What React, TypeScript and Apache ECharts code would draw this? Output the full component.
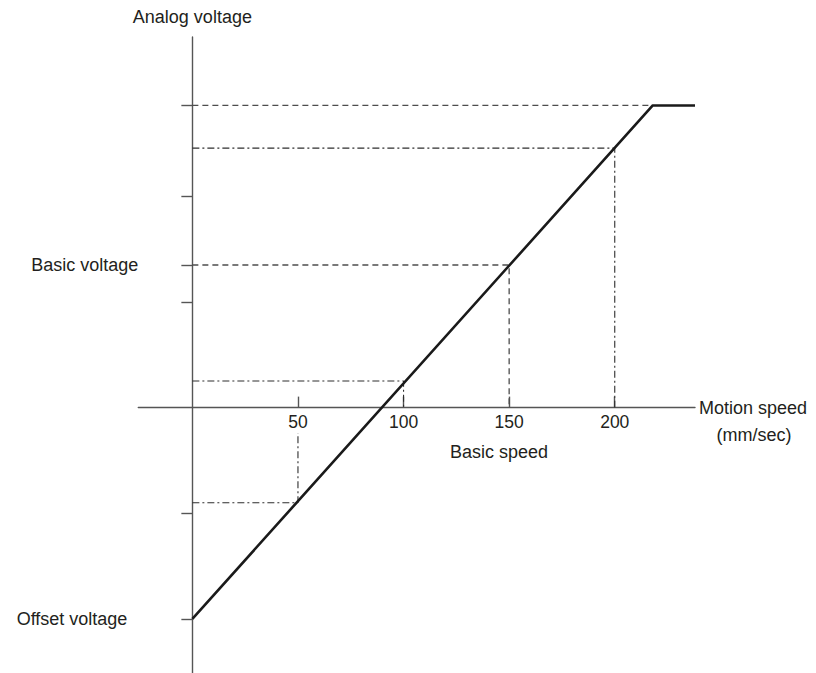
import React, { useEffect, useRef } from "react";
import * as echarts from "echarts";

const xTickValues = [50, 100, 150, 200];
const yTickValues = [143, 100, 67.5, 50, -50, -100];
const yLabelValues = [67.5, -100];
const yLabelNames = ["Basic voltage", "Offset voltage"];
const speedCurve = [[0, -100], [218, 143], [238, 143]];
const maxVoltageGuide = [[0, 143], [218, 143]];
const basicGuide = [[0, 67.5], [150, 67.5], [150, 0]];
const guide200 = [[0, 122.8], [200, 122.8], [200, 0]];
const guide100 = [[0, 12.6], [100, 12.6], [100, 0]];
const guide50 = [[0, -45], [50, -45], [50, -12]];

const X_MIN = -25.6;
const X_MAX = 238;
const Y_MIN = -125.6;
const Y_MAX = 175.4;

const TEXT = "#231f20";
const AXIS = "#555555";
const FONT = "Liberation Sans, Arial, sans-serif";

export default function App() {
  const ref = useRef<HTMLDivElement>(null);
  useEffect(() => {
    if (!ref.current) return;
    const chart = echarts.init(ref.current, null, { renderer: "svg" });
    const W = 816;
    const H = 673;
    const grid = { left: 138.3, right: 121, top: 37, bottom: 0 };
    const plotW = W - grid.left - grid.right;
    const plotH = H - grid.top - grid.bottom;
    // place the axes through the origin (layout offsets, computed from the axis ranges)
    const xAxisOffset = -(plotH * (0 - Y_MIN)) / (Y_MAX - Y_MIN);
    const yAxisOffset = -(plotW * (0 - X_MIN)) / (X_MAX - X_MIN);
    const dashed = { color: "#4d4d4d", width: 1.3, type: [6, 4] as number[] };
    const dashDot = { color: "#2e2e2e", width: 1.1, type: [7, 3, 2, 3] as number[] };
    const guide = (data: number[][], style: any) => ({
      type: "line",
      data,
      symbol: "none",
      silent: true,
      z: 1,
      lineStyle: style,
    });
    chart.setOption({
      animation: false,
      textStyle: { fontFamily: FONT },
      grid: { ...grid, containLabel: false, outerBoundsMode: "none" },
      xAxis: {
        type: "value",
        min: X_MIN,
        max: X_MAX,
        position: "bottom",
        offset: xAxisOffset,
        splitLine: { show: false },
        axisLine: { onZero: false, lineStyle: { color: AXIS, width: 1.4 } },
        axisTick: {
          customValues: xTickValues,
          inside: true,
          length: 11,
          lineStyle: { color: AXIS, width: 1.4 },
        },
        axisLabel: {
          customValues: xTickValues,
          margin: 5,
          fontSize: 17.5,
          color: TEXT,
          fontFamily: FONT,
        },
        name: "Motion speed",
        nameLocation: "end",
        nameGap: 58,
        nameTextStyle: {
          fontSize: 18,
          color: TEXT,
          fontFamily: FONT,
          align: "center",
          verticalAlign: "middle",
        },
      },
      yAxis: {
        type: "value",
        min: Y_MIN,
        max: Y_MAX,
        position: "left",
        offset: yAxisOffset,
        splitLine: { show: false },
        axisLine: { onZero: false, lineStyle: { color: AXIS, width: 1.4 } },
        axisTick: {
          customValues: yTickValues,
          inside: false,
          length: 11,
          lineStyle: { color: AXIS, width: 1.4 },
        },
        axisLabel: {
          customValues: yLabelValues,
          margin: 54,
          fontSize: 18,
          color: TEXT,
          fontFamily: FONT,
          formatter: (v: number) => {
            const i = yLabelValues.indexOf(v);
            return i === 1 ? "{o|" + yLabelNames[i] + "}" : "{b|" + (yLabelNames[i] ?? "") + "}";
          },
          rich: {
            b: { fontSize: 18, color: TEXT, fontFamily: FONT },
            o: { fontSize: 18, color: TEXT, fontFamily: FONT, padding: [0, 11, 0, 0] },
          },
        },
        name: "Analog voltage",
        nameLocation: "end",
        nameGap: 11,
        nameTextStyle: { fontSize: 18, color: TEXT, fontFamily: FONT },
      },
      graphic: [
        {
          type: "text",
          x: 754,
          y: 435,
          style: {
            text: "(mm/sec)",
            fill: TEXT,
            font: "18px " + FONT,
            align: "center",
            verticalAlign: "middle",
          },
        },
        {
          type: "text",
          x: 499,
          y: 452,
          style: {
            text: "Basic speed",
            fill: TEXT,
            font: "18px " + FONT,
            align: "center",
            verticalAlign: "middle",
          },
        },
      ],
      series: [
        guide(maxVoltageGuide, dashed),
        guide(basicGuide, dashed),
        guide(guide200, dashDot),
        guide(guide100, dashDot),
        guide(guide50, dashDot),
        {
          type: "line",
          data: speedCurve,
          symbol: "none",
          silent: true,
          z: 3,
          lineStyle: { color: "#1a1a1a", width: 2.6 },
        },
      ],
    });
    return () => chart.dispose();
  }, []);
  return (
    <div
      ref={ref}
      style={{ position: "fixed", left: 0, top: 0, width: 816, height: 673, background: "#fff" }}
    />
  );
}
